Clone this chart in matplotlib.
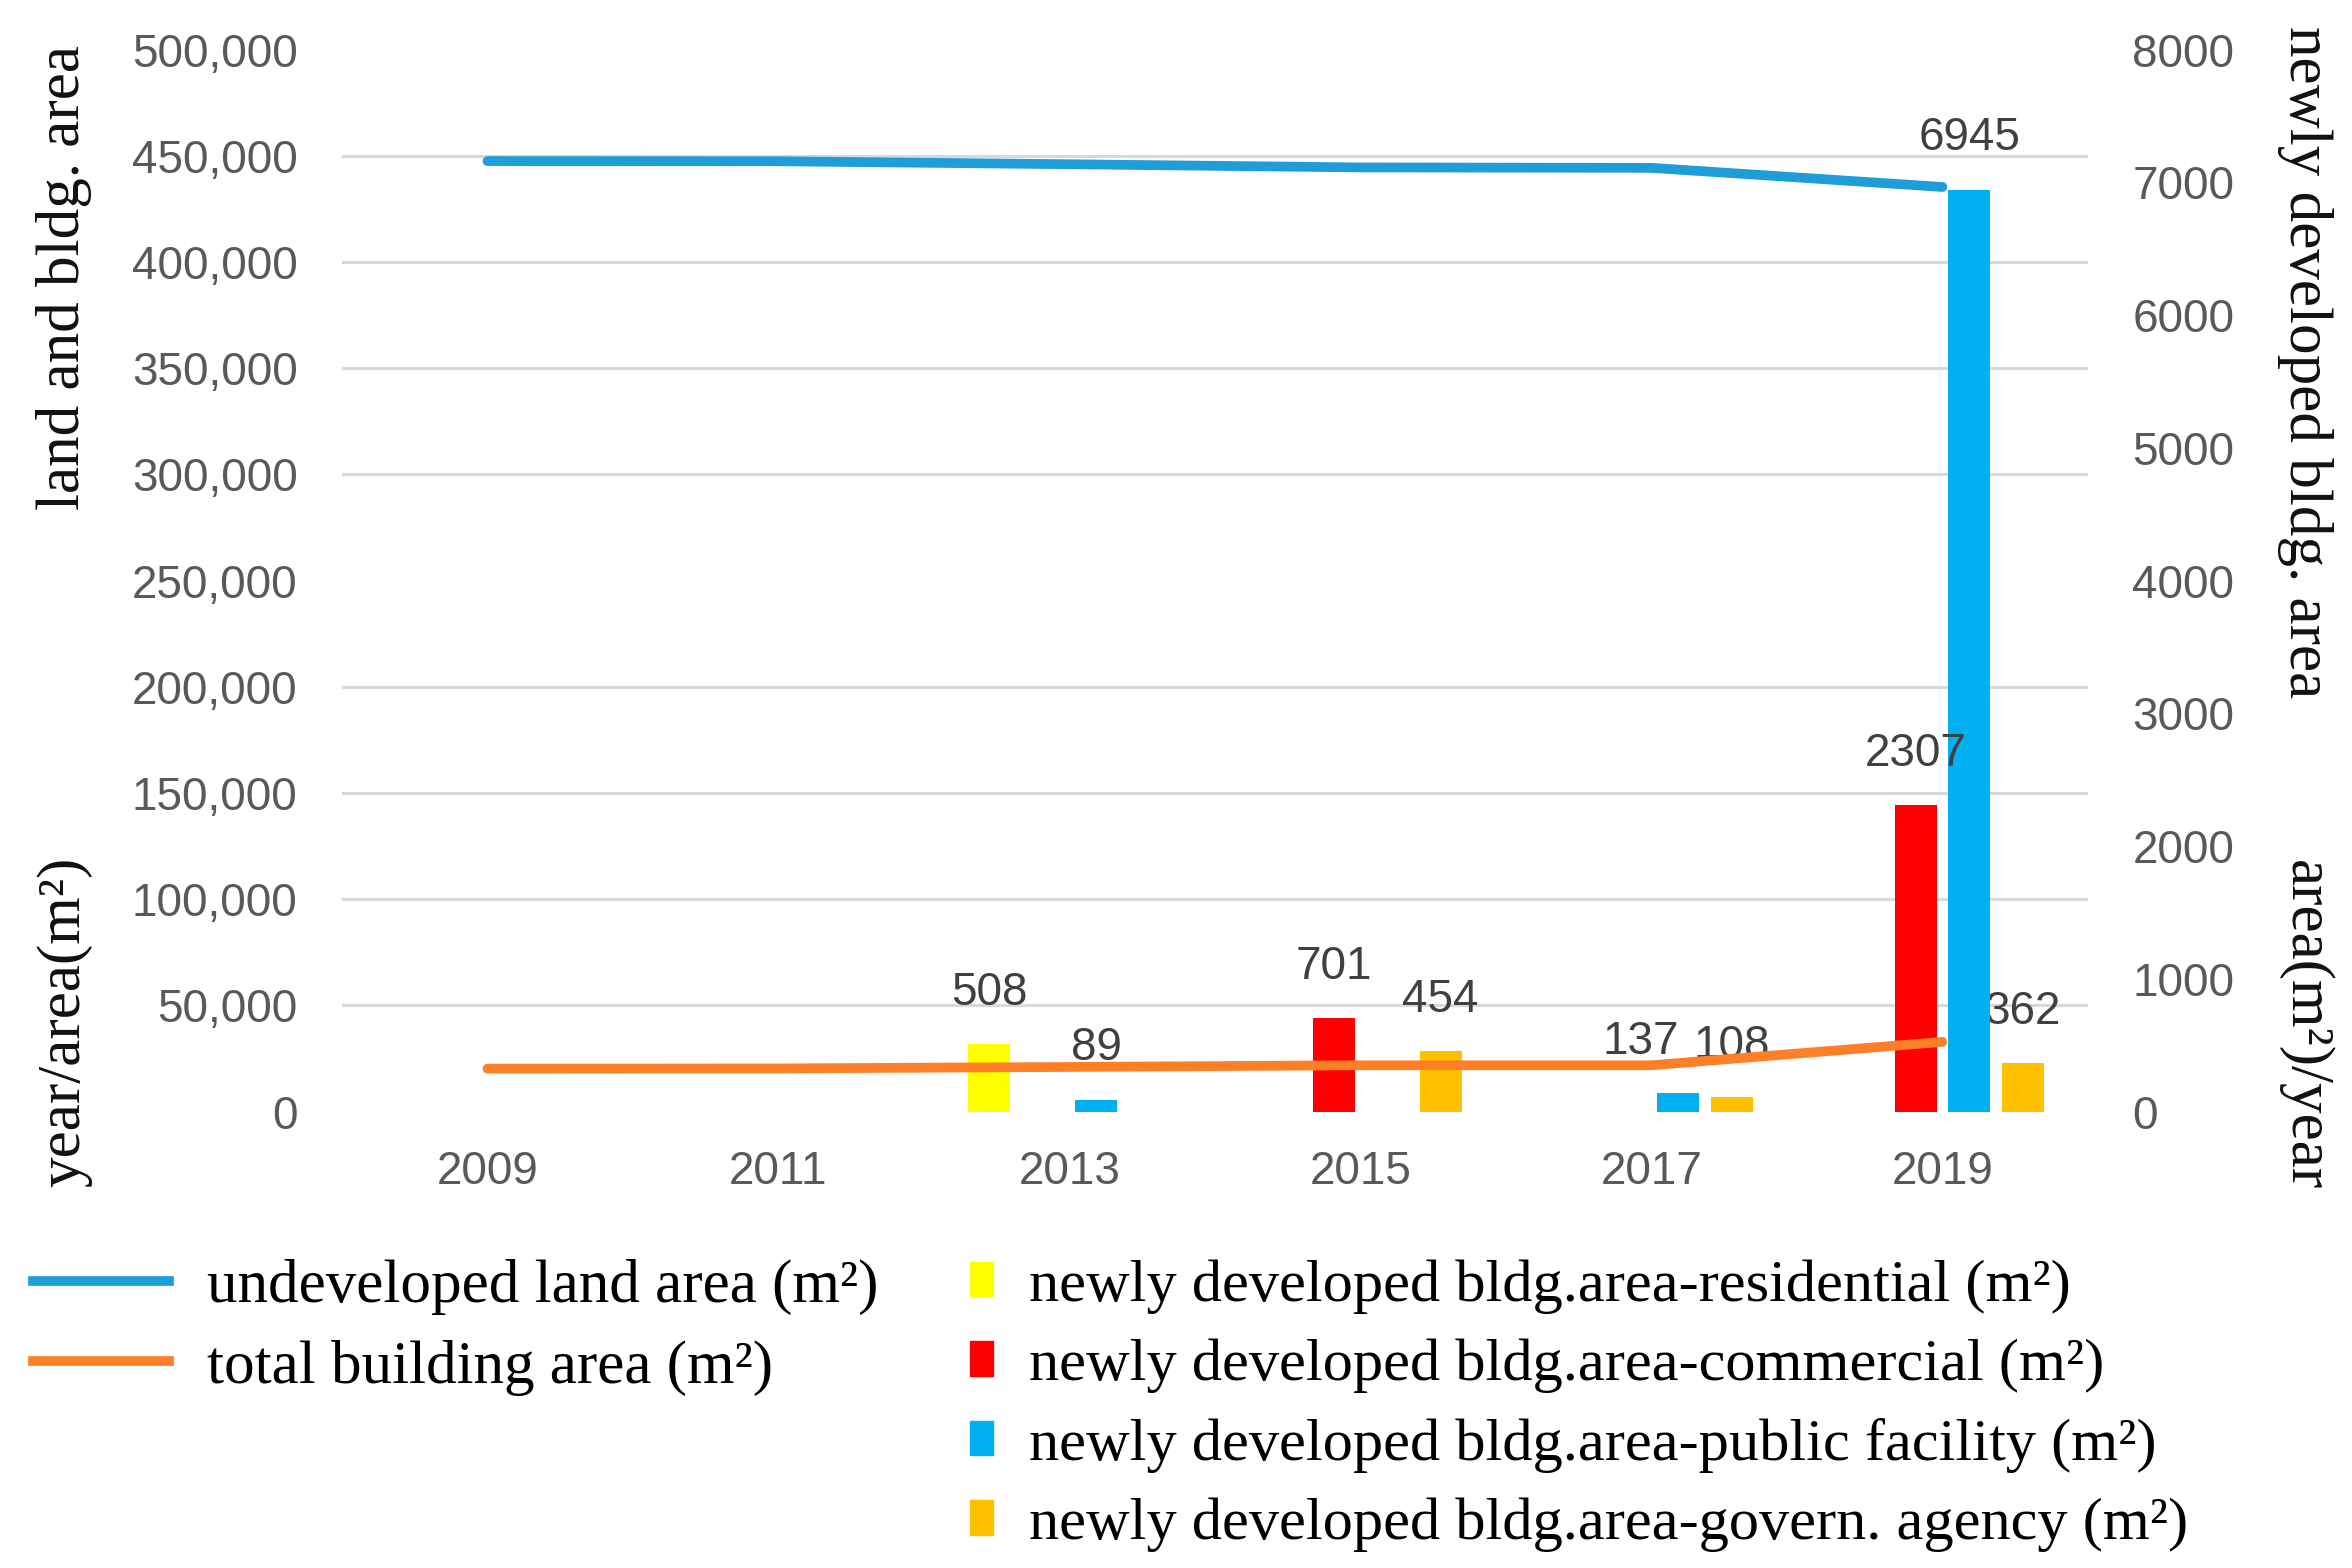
import numpy as np
import matplotlib.pyplot as plt
from matplotlib.ticker import FuncFormatter, MultipleLocator
from matplotlib.lines import Line2D
from matplotlib.patches import Patch

# data
years = ['2009', '2011', '2013', '2015', '2017', '2019']
undeveloped_land = [447500, 447400, 446000, 444500, 444300, 435300]
total_building = [20200, 20300, 21000, 21800, 21800, 32800]

residential = [0, 0, 508, 0, 0, 0]
commercial = [0, 0, 0, 701, 0, 2307]
public_facility = [0, 0, 89, 0, 137, 6945]
govern_agency = [0, 0, 0, 454, 108, 362]

LINE_BLUE = '#1E9DD8'
LINE_ORANGE = '#FF7F27'
BAR_COLORS = ['#FFFF00', '#FF0000', '#00B0F0', '#FFC000']
TICK_GRAY = '#595959'
LABEL_GRAY = '#404040'

SANS = ['Liberation Sans Narrow', 'Liberation Sans', 'DejaVu Sans']
SERIF = ['Liberation Serif', 'DejaVu Serif']

fig = plt.figure(figsize=(23.52, 15.68), dpi=100)
ax = fig.add_axes([0.1454, 0.2911, 0.7423, 0.6773])
ax2 = ax.twinx()
# lines (left scale) on top of bars (right scale)
ax.set_zorder(ax2.get_zorder() + 1)
ax.patch.set_visible(False)

x = np.arange(len(years))
series = [residential, commercial, public_facility, govern_agency]
bar_w = 0.145
step = 0.184
label_nudge = {(2, 4): -27}  # the "137" label sits a bit to the left
label_z = [4, 4, 4, 2]       # govern. labels sit behind the neighbouring bar

for i, vals in enumerate(series):
    xs = x + (i - 1.5) * step
    for j, v in enumerate(vals):
        if v <= 0:
            continue
        ax2.bar(xs[j], v, width=bar_w, color=BAR_COLORS[i], zorder=3)
        ax2.annotate(f'{v}', (xs[j], v), xytext=(label_nudge.get((i, j), 0), 37),
                     textcoords='offset points', ha='center', va='center',
                     fontsize=33, color=LABEL_GRAY, family=SANS, zorder=label_z[i])

ax.plot(x, undeveloped_land, color=LINE_BLUE, lw=7, solid_capstyle='round')
ax.plot(x, total_building, color=LINE_ORANGE, lw=7, solid_capstyle='round')

ax.set_xlim(-0.5, len(years) - 0.5)
ax.set_ylim(0, 500000)
ax2.set_ylim(0, 8000)
ax.set_yticks(np.arange(0, 500001, 50000))
ax.yaxis.set_major_formatter(FuncFormatter(lambda v, p: f'{int(v):,}'))
ax2.set_yticks(np.arange(0, 8001, 1000))
ax.set_xticks(x)
ax.set_xticklabels(years)

# gridlines under the bars: minor ticks on the bar axis, aligned with left ticks
ax2.yaxis.set_minor_locator(MultipleLocator(800))
ax2.grid(axis='y', which='minor', color='#D9D9D9', lw=2.2, zorder=0)
ax2.tick_params(axis='y', which='minor', length=0)

for a in (ax, ax2):
    for s in a.spines.values():
        s.set_visible(False)
ax.tick_params(axis='both', length=0, labelsize=33, labelcolor=TICK_GRAY)
ax.tick_params(axis='y', pad=32)
ax.tick_params(axis='x', pad=28)
ax2.tick_params(axis='y', length=0, labelsize=33, labelcolor=TICK_GRAY, pad=32)
for lab in ax.get_xticklabels() + ax.get_yticklabels() + ax2.get_yticklabels():
    lab.set_family(SANS)

# axis titles
tkw = dict(fontsize=44, family=SERIF, color='#111111', va='center', ha='center')
fig.text(0.0272, 0.823, 'land and bldg. area', rotation=90, **tkw)
fig.text(0.0272, 0.348, 'year/area(m²)', rotation=90, **tkw)
fig.text(0.980, 0.769, 'newly developed bldg. area', rotation=-90, **tkw)
fig.text(0.980, 0.346, 'area(m²)/year', rotation=-90, **tkw)

# legends
line_handles = [Line2D([], [], color=LINE_BLUE, lw=7),
                Line2D([], [], color=LINE_ORANGE, lw=7)]
line_labels = ['undeveloped land area (m²)', 'total building area (m²)']
fig.legend(line_handles, line_labels, loc='upper left',
           bbox_to_anchor=(0.014, 0.197), frameon=False,
           prop={'family': SERIF, 'size': 44}, handlelength=2.23,
           handletextpad=0.62, labelspacing=0.40, borderpad=0, borderaxespad=0)

bar_handles = [Patch(color=c) for c in BAR_COLORS]
bar_labels = ['newly developed bldg.area-residential (m²)',
              'newly developed bldg.area-commercial (m²)',
              'newly developed bldg.area-public facility (m²)',
              'newly developed bldg.area-govern. agency (m²)']
fig.legend(bar_handles, bar_labels, loc='upper left',
           bbox_to_anchor=(0.4126, 0.197), frameon=False,
           prop={'family': SERIF, 'size': 43.5}, handlelength=0.37,
           handleheight=0.5, handletextpad=0.6, labelspacing=0.41,
           borderpad=0, borderaxespad=0)

fig.savefig('out.png', dpi=100, facecolor='white')
